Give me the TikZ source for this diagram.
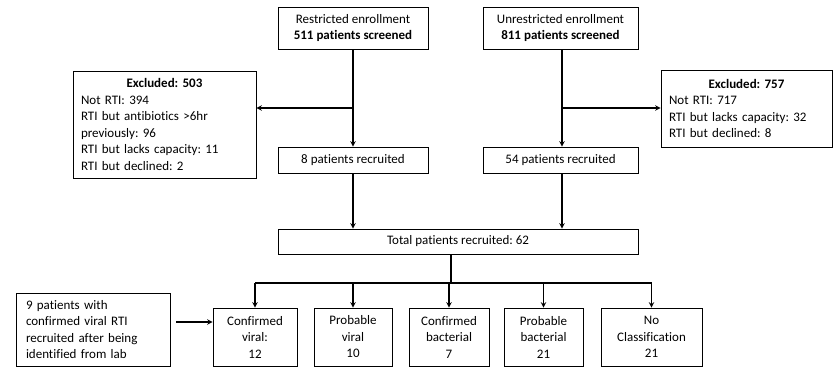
\documentclass[tikz,border=0pt]{standalone}
\usepackage{fontspec}
\setmainfont{Carlito}[Ligatures=NoCommon]
\frenchspacing
\usetikzlibrary{arrows,calc,positioning}

\begin{document}
\begin{tikzpicture}[x=1pt,y=-1pt,>=stealth,
    box/.style={draw, line width=0.8pt, align=center, inner sep=2pt,
        font=\fontsize{13}{16.5}\selectfont},
    exbox/.style={box, align=left, inner xsep=8pt, inner ysep=3pt},
    cat/.style={box, minimum height=58pt},
    flow/.style={->, line width=1.4pt}]

    \useasboundingbox (0,0) rectangle (834,367);

    % enrollment
    \node[box, minimum width=150pt, minimum height=42pt] (restr) at (353,28)
        {Restricted enrollment\\\textbf{511 patients screened}};
    \node[box, minimum width=155pt, minimum height=42pt] (unrestr) at (560.5,28)
        {Unrestricted enrollment\\\textbf{811 patients screened}};

    % exclusions
    \node[exbox, text width=167pt, minimum height=107pt] (exc1) at (164.5,124.5)
        {\makebox[\linewidth]{\textbf{Excluded: 503}}\\
         Not RTI: 394\\
         RTI but antibiotics >6hr\\
         previously: 96\\
         RTI but lacks capacity: 11\\
         RTI but declined: 2};
    \node[exbox, text width=155pt, minimum height=77pt] (exc2) at (746.5,108.5)
        {\makebox[\linewidth]{\textbf{Excluded: 757}}\\
         Not RTI: 717\\
         RTI but lacks capacity: 32\\
         RTI but declined: 8};

    % recruited
    \node[box, minimum width=150pt, minimum height=26pt] (rec1) at (353,160)
        {8 patients recruited};
    \node[box, minimum width=155pt, minimum height=26pt] (rec2) at (560.5,160)
        {54 patients recruited};
    \node[box, minimum width=360pt, minimum height=25pt] (total) at (458,241.5)
        {Total patients recruited: 62};

    % classification
    \node[cat, minimum width=84pt] (cv) at (255,337) {Confirmed\\viral:\\12};
    \node[cat, minimum width=78pt] (pv) at (353,337) {Probable\\viral\\10};
    \node[cat, minimum width=80pt] (cb) at (449,337) {Confirmed\\bacterial\\7};
    \node[cat, minimum width=79pt] (pb) at (543.5,337) {Probable\\bacterial\\21};
    \node[cat, minimum width=101pt] (nc) at (651.5,337) {No\\Classification\\21};

    \node[exbox, inner xsep=10pt, text width=134pt, minimum height=73pt] (lab) at (93,329.5)
        {9 patients with\\
         confirmed viral RTI\\
         recruited after being\\
         identified from lab};

    % connectors
    \coordinate (jl) at (353,108);
    \coordinate (jr) at (562,108);
    \draw[flow] (restr) -- (rec1);
    \draw[flow] (jl) -- (jl -| exc1.east);
    \draw[flow] ([xshift=1.5pt]unrestr.south) -- ([xshift=1.5pt]rec2.north);
    \draw[flow] (jr) -- (jr -| exc2.west);
    \draw[flow] (rec1) -- (rec1 |- total.north);
    \draw[flow] ([xshift=1.5pt]rec2.south) -- ([xshift=1.5pt]rec2.south |- total.north);

    \coordinate (split) at (451,283);
    \draw[line width=1.4pt] (split |- total.south) -- (split);
    \draw[line width=1.4pt] (cv.north |- split) -- (nc.north |- split);
    \foreach \c in {cv,pv,cb,pb,nc}
        \draw[flow] (\c.north |- split) -- (\c.north);

    \coordinate (labout) at (176,322);
    \draw[flow] (labout) -- (labout -| cv.west);
\end{tikzpicture}
\end{document}
